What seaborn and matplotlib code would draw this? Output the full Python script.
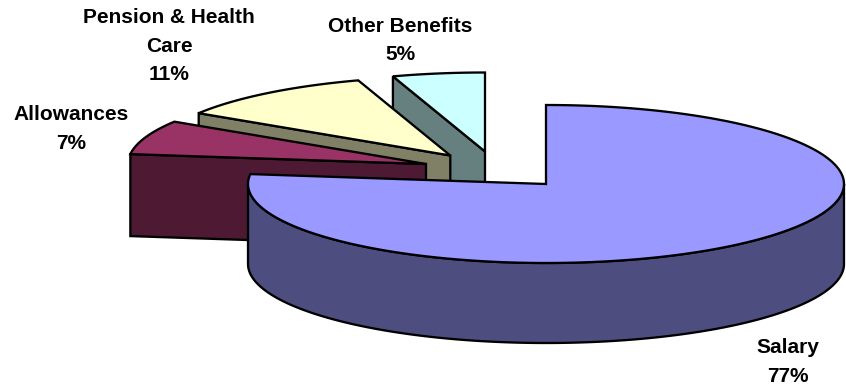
import numpy as np
import matplotlib
matplotlib.use("Agg")
import matplotlib.pyplot as plt
from matplotlib.patches import Polygon
import seaborn as sns

# data
categories = ["Salary", "Allowances", "Pension & Health\nCare", "Other Benefits"]
values = [77.0, 7.0, 11.0, 5.0]
top_colors = ["#9999FF", "#993366", "#FFFFCC", "#CCFFFF"]
side_colors = ["#4D4D80", "#4D1933", "#808066", "#668080"]

# layout (pixels)
centers = [(546, 184), (426, 164), (450.3, 155.5), (485, 151.5)]
depths = [80, 82, 80, 80]
label_pos = [(788, 362), (71, 129), (169, 46), (400, 40.5)]
RX, RY = 298, 79

sns.set_theme(style="white")
plt.rcParams["font.family"] = ["Liberation Sans", "DejaVu Sans"]

fig = plt.figure(figsize=(8.46, 3.91), dpi=100)
ax = fig.add_axes([0, 0, 1, 1])
ax.set_xlim(0, 846)
ax.set_ylim(391, 0)
ax.axis("off")

def arc(c, a0, a1, dy=0, n=200):
    t = np.radians(np.linspace(a0, a1, n))
    return np.column_stack([c[0] + RX * np.cos(t), c[1] + dy - RY * np.sin(t)])

def shape(pts, color, z):
    ax.add_patch(Polygon(pts, closed=True, facecolor=color, edgecolor="black",
                         linewidth=1.65, joinstyle="miter", zorder=z))

# clockwise from 12 o'clock
spans = np.array(values) / sum(values) * 360
ends = 90 - np.cumsum(spans)
starts = ends + spans

# draw from the back slice to the front one
for i in [3, 2, 1, 0]:
    c, d, a0, a1 = centers[i], depths[i], starts[i], ends[i]
    z = 10 + (3 - i) * 2
    top = np.vstack([[c], arc(c, a0, a1)])
    if i == 0:
        wall = np.vstack([arc(c, 180, 360), arc(c, 360, 180, dy=d)])
    else:
        edge = arc(c, a0, a0, n=1)[0]
        wall = np.array([edge, c, (c[0], c[1] + d), (edge[0], edge[1] + d)])
    shape(wall, side_colors[i], z)
    shape(top, top_colors[i], z + 1)

for name, v, (x, y) in zip(categories, values, label_pos):
    ax.text(x, y, f"{name}\n{v:.0f}%", ha="center", va="center", ma="center",
            fontsize=15, fontweight="bold", color="black", linespacing=1.64, zorder=30)

fig.savefig("out.png", dpi=100, facecolor="white")
